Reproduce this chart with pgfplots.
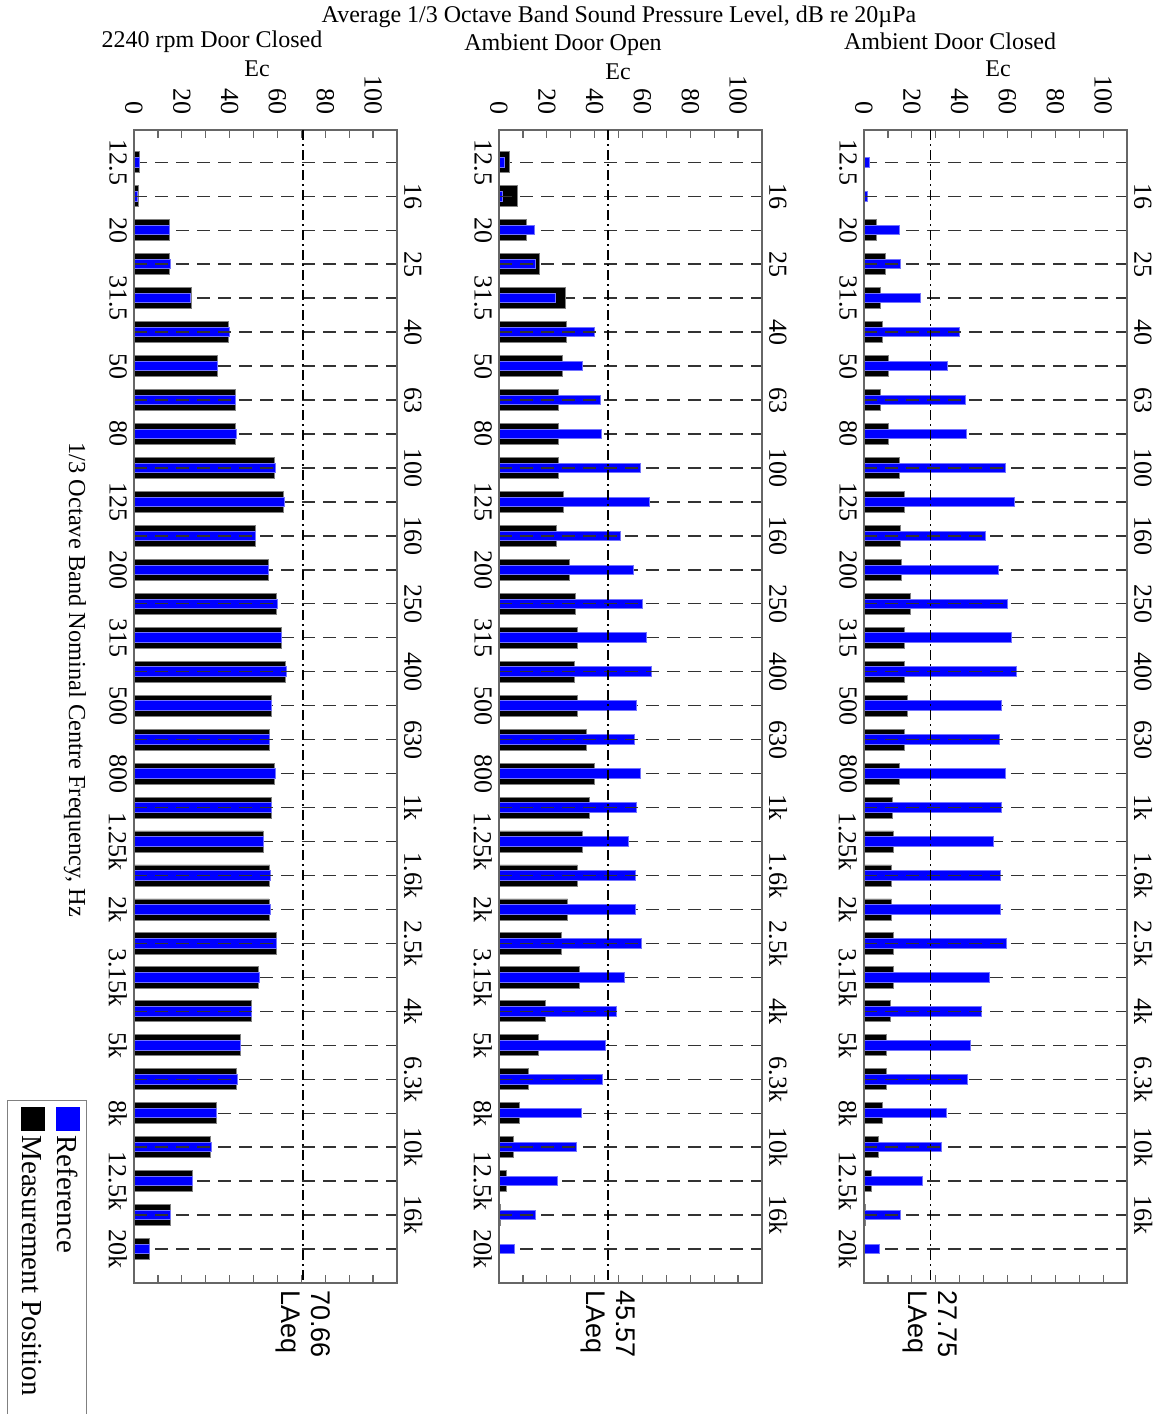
\documentclass[border=0pt]{standalone}
\usepackage{fontspec}
\setmainfont{Liberation Serif}
\newfontfamily\arialf{Liberation Sans}
\usepackage{pgfplots}
\pgfplotsset{compat=1.18}
\usepackage{pgfplotstable}

\pgfplotstableread{
idx ref mpL mpM mpR
0 2.1 2.1 4.2 nan
1 1.5 1.8 7.7 nan
2 14.9 14.9 11.6 5.3
3 15.3 14.9 16.9 9.1
4 23.7 23.9 27.9 7.0
5 39.9 39.5 28.3 7.8
6 35.0 35.0 26.6 10.2
7 42.3 42.3 25.0 7.0
8 42.7 42.3 25.0 10.2
9 59.3 58.9 25.0 14.6
10 62.8 62.5 26.9 17.0
11 50.8 50.8 23.8 15.1
12 56.1 56.1 29.4 15.5
13 60.0 59.7 31.9 19.4
14 61.6 61.6 32.8 16.7
15 63.7 63.2 31.4 17.0
16 57.6 57.6 32.8 18.3
17 56.5 56.5 36.4 17.0
18 59.3 58.9 39.9 14.6
19 57.6 57.6 37.8 11.7
20 54.0 54.0 34.7 12.3
21 57.2 56.8 32.8 11.4
22 56.9 56.5 28.7 11.4
23 59.6 59.7 25.9 12.3
24 52.4 52.0 33.6 12.3
25 49.2 49.2 19.4 11.0
26 44.4 44.4 16.3 9.5
27 43.2 42.7 12.3 9.5
28 34.3 34.3 8.6 7.8
29 32.5 31.9 5.9 5.9
30 24.3 24.3 3.3 3.3
31 15.3 15.3 0.7 0.7
32 6.6 6.6 nan nan
}\freq

\tikzset{
 laeqlab/.style={rotate=-90, anchor=west, font=\arialf\fontsize{13.5}{15}\selectfont, align=left},
}
\pgfplotsset{
 panelbase/.style={
  scale only axis, width=131.5pt, height=576.5pt,
  xmin=0, xmax=110, ymin=-0.95, ymax=33, y dir=reverse,
  axis line style={black!60, line width=0.8pt},
  unbounded coords=discard,
 },
 panel/.style={panelbase,
  xtick={0,20,...,100}, minor xtick={10,30,...,90},
  xticklabel pos=upper,
  major tick length=4pt, minor tick length=4pt,
  tick style={black!60, line width=0.6pt},
  xticklabel style={rotate=-90, anchor=east, font=\fontsize{13}{13}\selectfont},
  xticklabel shift=4pt,
  /pgf/number format/assume math mode=true,
  ytick={0,2,...,32},
  yticklabels={12.5,20,31.5,50,80,125,200,315,500,800,1.25k,2k,3.15k,5k,8k,12.5k,20k},
  yticklabel style={rotate=-90, anchor=north, font=\fontsize{13}{13}\selectfont},
  ytick style={draw=none},
  ymajorgrids,
  major grid style={black!80, line width=0.7pt, dash pattern=on 6.5pt off 4pt},
 },
 overpanel/.style={panelbase, clip=false,
  xtick=\empty,
  ytick={1,3,...,31},
  yticklabel pos=right,
  yticklabels={16,25,40,63,100,160,250,400,630,1k,1.6k,2.5k,4k,6.3k,10k,16k},
  yticklabel style={rotate=-90, anchor=south, font=\fontsize{13}{13}\selectfont},
  ytick style={draw=none},
  ymajorgrids,
  major grid style={black!80, line width=0.7pt, dash pattern=on 6.5pt off 4pt},
 },
 mbar/.style={xbar, bar shift=0pt, bar width=0.62, fill=black, draw=black!50, line width=0.4pt},
 rbar/.style={xbar, bar shift=0pt, bar width=0.28, fill=blue, draw=blue!55, line width=0.5pt},
 laeq/.style={black, line width=0.7pt, dash pattern=on 5pt off 2pt on 1pt off 2pt},
}

\begin{document}
\begin{tikzpicture}
\path[use as bounding box] (0,0) rectangle (581.5pt,-707pt);

% titles
\node[font=\fontsize{12}{12}\selectfont] at (309.5pt,-8.5pt) {Average 1/3 Octave Band Sound Pressure Level, dB re 20\textmu Pa};
\node[font=\fontsize{12}{12}\selectfont] at (106pt,-21pt) {2240 rpm Door Closed};
\node[font=\fontsize{12}{12}\selectfont] at (281.5pt,-22.5pt) {Ambient Door Open};
\node[font=\fontsize{12}{12}\selectfont] at (475pt,-20.5pt) {Ambient Door Closed};
\node[font=\fontsize{12}{12}\selectfont] at (128.5pt,-34.5pt) {Ec};
\node[font=\fontsize{12}{12}\selectfont] at (309pt,-36pt) {Ec};
\node[font=\fontsize{12}{12}\selectfont] at (499pt,-34.5pt) {Ec};

% left panel
\begin{axis}[panel, at={(67pt,-65pt)}, anchor=north west]
\addplot[mbar] table[x=mpL, y=idx] {\freq};
\addplot[rbar] table[x=ref, y=idx] {\freq};
\end{axis}
\begin{axis}[overpanel, at={(67pt,-65pt)}, anchor=north west]
\addplot[laeq] coordinates {(70.66,-0.95) (70.66,33)};
\node[laeqlab] at (axis cs:70.66,33) {70.66\\LAeq};
\end{axis}

% middle panel
\begin{axis}[panel, at={(249.5pt,-65pt)}, anchor=north west]
\addplot[mbar] table[x=mpM, y=idx] {\freq};
\addplot[rbar] table[x=ref, y=idx] {\freq};
\end{axis}
\begin{axis}[overpanel, at={(249.5pt,-65pt)}, anchor=north west]
\addplot[laeq] coordinates {(45.57,-0.95) (45.57,33)};
\node[laeqlab] at (axis cs:45.57,33) {45.57\\LAeq};
\end{axis}

% right panel
\begin{axis}[panel, at={(432pt,-65pt)}, anchor=north west]
\addplot[mbar] table[x=mpR, y=idx] {\freq};
\addplot[rbar] table[x=ref, y=idx] {\freq};
\end{axis}
\begin{axis}[overpanel, at={(432pt,-65pt)}, anchor=north west]
\addplot[laeq] coordinates {(27.75,-0.95) (27.75,33)};
\node[laeqlab] at (axis cs:27.75,33) {27.75\\LAeq};
\end{axis}

% frequency axis label
\node[rotate=-90, font=\fontsize{12.2}{13}\selectfont] at (37.5pt,-340pt) {1/3 Octave Band Nominal Centre Frequency, Hz};

% legend
\node[rotate=-90, anchor=north west, draw=black!50, line width=0.6pt, inner sep=3pt,
      font=\fontsize{14.5}{17.5}\selectfont, align=left] at (43.5pt,-550pt)
  {\textcolor{blue}{\rule[-0.5pt]{12pt}{12pt}}\,Reference\\\rule[-0.5pt]{12pt}{12pt}\,Measurement Position\rule[-4.5pt]{0pt}{4.5pt}\hspace*{20pt}};
\end{tikzpicture}
\end{document}
